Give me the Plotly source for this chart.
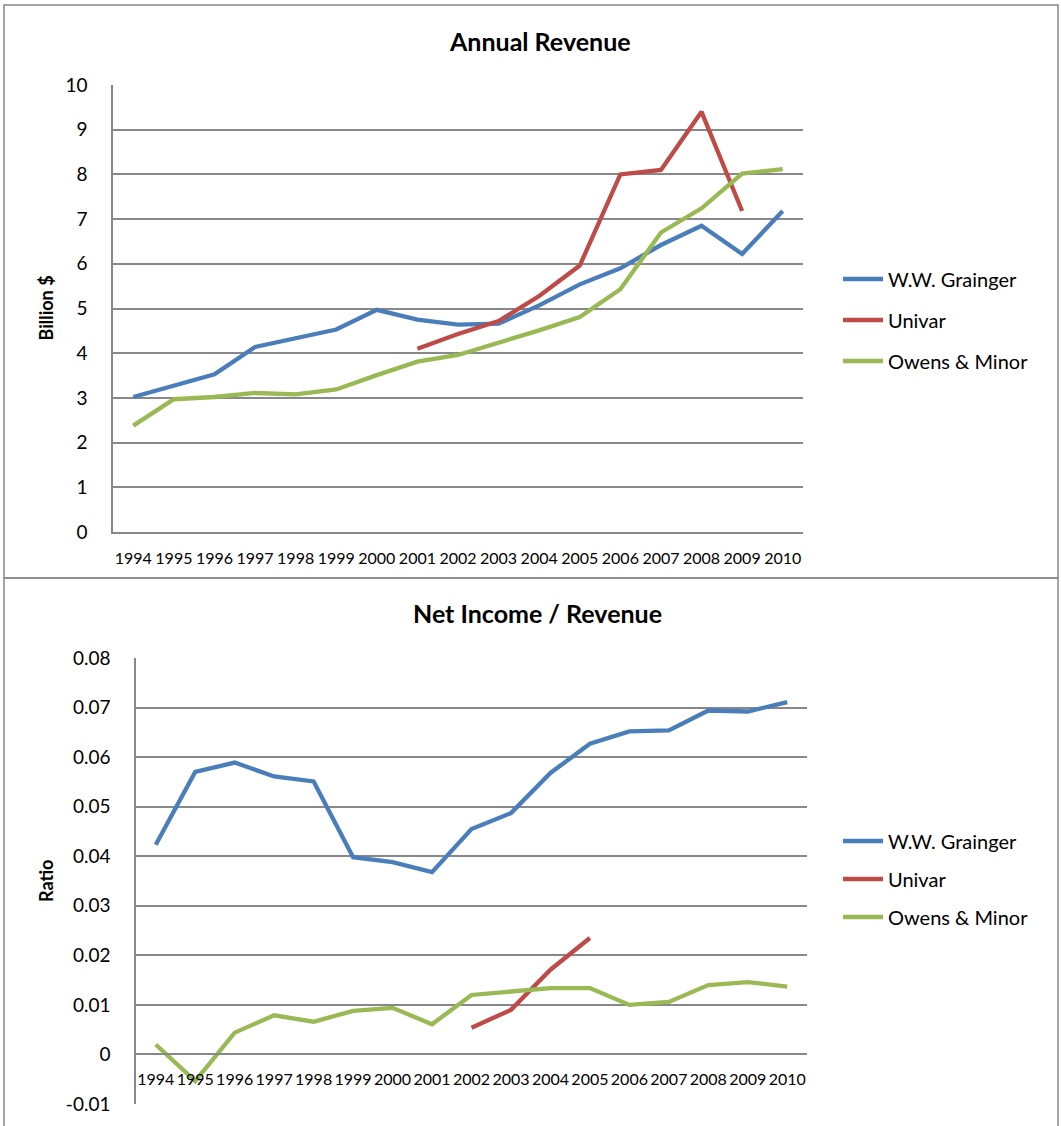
import plotly.graph_objects as go

years = [str(y) for y in range(1994, 2011)]

# Annual revenue (billion $)
rev_grainger = [3.02, 3.27, 3.53, 4.14, 4.34, 4.53, 4.97, 4.75, 4.64, 4.66, 5.07, 5.54, 5.90, 6.42, 6.85, 6.22, 7.18]
rev_univar = [None, None, None, None, None, None, None, 4.10, 4.43, 4.72, 5.28, 5.96, 8.00, 8.10, 9.40, 7.18, None]
rev_owens = [2.38, 2.97, 3.02, 3.11, 3.08, 3.19, 3.51, 3.81, 3.96, 4.23, 4.51, 4.81, 5.43, 6.70, 7.24, 8.02, 8.12]

# Net income / revenue
ratio_grainger = [0.0423, 0.0570, 0.0589, 0.0561, 0.0551, 0.0398, 0.0388, 0.0368, 0.0455, 0.0487, 0.0568, 0.0627, 0.0652, 0.0654, 0.0694, 0.0692, 0.0711]
ratio_univar = [None, None, None, None, None, None, None, None, 0.0054, 0.0090, 0.0171, 0.0235, None, None, None, None, None]
ratio_owens = [0.0020, -0.0054, 0.0044, 0.0079, 0.0066, 0.0088, 0.0094, 0.0061, 0.0120, 0.0126, 0.0134, 0.0134, 0.0100, 0.0106, 0.0140, 0.0146, 0.0137]

series_names = ["W.W. Grainger", "Univar", "Owens & Minor"]
colors = ["#4A7EBB", "#BE4B48", "#98B954"]

rev_ticks = [0, 1, 2, 3, 4, 5, 6, 7, 8, 9, 10]
rev_ticktext = ["0", "1", "2", "3", "4", "5", "6", "7", "8", "9", "10"]
ratio_ticks = [-0.01, 0, 0.01, 0.02, 0.03, 0.04, 0.05, 0.06, 0.07, 0.08]
ratio_ticktext = ["-0.01", "0", "0.01", "0.02", "0.03", "0.04", "0.05", "0.06", "0.07", "0.08"]

W, H = 1061, 1126
FONT = "Lato"
GRID = "#888888"

fig = go.Figure()

for name, vals, col in zip(series_names, [rev_grainger, rev_univar, rev_owens], colors):
    fig.add_trace(go.Scatter(x=years, y=vals, name=name, mode="lines",
                             line=dict(color=col, width=4.3), connectgaps=False,
                             xaxis="x", yaxis="y", legend="legend", legendgroup="a" + name))
for name, vals, col in zip(series_names, [ratio_grainger, ratio_univar, ratio_owens], colors):
    fig.add_trace(go.Scatter(x=years, y=vals, name=name, mode="lines",
                             line=dict(color=col, width=4.3), connectgaps=False,
                             xaxis="x2", yaxis="y2", legend="legend2", legendgroup="b" + name))

top_x = [113 / W, 803 / W]
top_y = [1 - 532 / H, 1 - 85 / H]
bot_x = [136 / W, 807 / W]
bot_y = [1 - 1104 / H, 1 - 658 / H]
r2 = [-0.01, 0.08]
x2_pos = bot_y[0] + (0 - r2[0]) / (r2[1] - r2[0]) * (bot_y[1] - bot_y[0])

tickfont_y = dict(family=FONT, size=19, color="#000000")
tickfont_x = dict(family=FONT, size=16, color="#000000")
axtitle_font = dict(family=FONT, size=18, color="#000000")
legend_font = dict(family=FONT, size=20, color="#000000")

common_x = dict(type="category", range=[-0.5, 16.5], showgrid=False, showline=True,
                linecolor=GRID, linewidth=1.5, ticks="", tickfont=tickfont_x,
                ticklabelstandoff=11, zeroline=False, automargin=False, tickangle=0)
common_y = dict(showgrid=True, gridcolor=GRID, gridwidth=1.5, showline=True, linecolor=GRID,
                linewidth=1.5, ticks="", tickfont=tickfont_y, ticklabelstandoff=20,
                zeroline=False, automargin=False)

fig.update_layout(
    width=W, height=H,
    margin=dict(l=0, r=0, t=0, b=0, autoexpand=False),
    paper_bgcolor="white", plot_bgcolor="white",
    font=dict(family=FONT, color="#000000"),
    xaxis=dict(domain=top_x, anchor="y", **common_x),
    yaxis=dict(domain=top_y, anchor="x", range=[0, 10], tickvals=rev_ticks, ticktext=rev_ticktext, **common_y),
    xaxis2=dict(domain=bot_x, anchor="free", position=x2_pos, **common_x),
    yaxis2=dict(domain=bot_y, anchor="x2", range=r2, tickvals=ratio_ticks, ticktext=ratio_ticktext, **common_y),
    legend=dict(x=838 / W, y=1 - 320 / H, xanchor="left", yanchor="middle",
                font=legend_font, tracegroupgap=12, itemwidth=40,
                bgcolor="rgba(0,0,0,0)"),
    legend2=dict(x=838 / W, y=1 - 879 / H, xanchor="left", yanchor="middle",
                 font=legend_font, tracegroupgap=9, itemwidth=40,
                 bgcolor="rgba(0,0,0,0)"),
    annotations=[
        dict(text="<b>Annual Revenue</b>", x=540 / W, y=1 - 41 / H, xref="paper", yref="paper",
             showarrow=False, xanchor="center", yanchor="middle",
             font=dict(family=FONT, size=25, color="#000000")),
        dict(text="<b>Net Income / Revenue</b>", x=537 / W, y=1 - 613 / H, xref="paper", yref="paper",
             showarrow=False, xanchor="center", yanchor="middle",
             font=dict(family=FONT, size=25, color="#000000")),
        dict(text="<b>Billion $</b>", x=46 / W, y=(top_y[0] + top_y[1]) / 2, xref="paper", yref="paper",
             showarrow=False, xanchor="center", yanchor="middle", textangle=-90, font=axtitle_font),
        dict(text="<b>Ratio</b>", x=46 / W, y=(bot_y[0] + bot_y[1]) / 2, xref="paper", yref="paper",
             showarrow=False, xanchor="center", yanchor="middle", textangle=-90, font=axtitle_font),
    ],
    shapes=[
        dict(type="rect", xref="paper", yref="paper", x0=4 / W, x1=1058 / W, y0=1 - 578 / H, y1=1 - 5 / H,
             line=dict(color=GRID, width=1.5)),
        dict(type="rect", xref="paper", yref="paper", x0=4 / W, x1=1058 / W, y0=-0.01, y1=1 - 578 / H,
             line=dict(color=GRID, width=1.5)),
    ],
)

fig.write_html("out.html")
